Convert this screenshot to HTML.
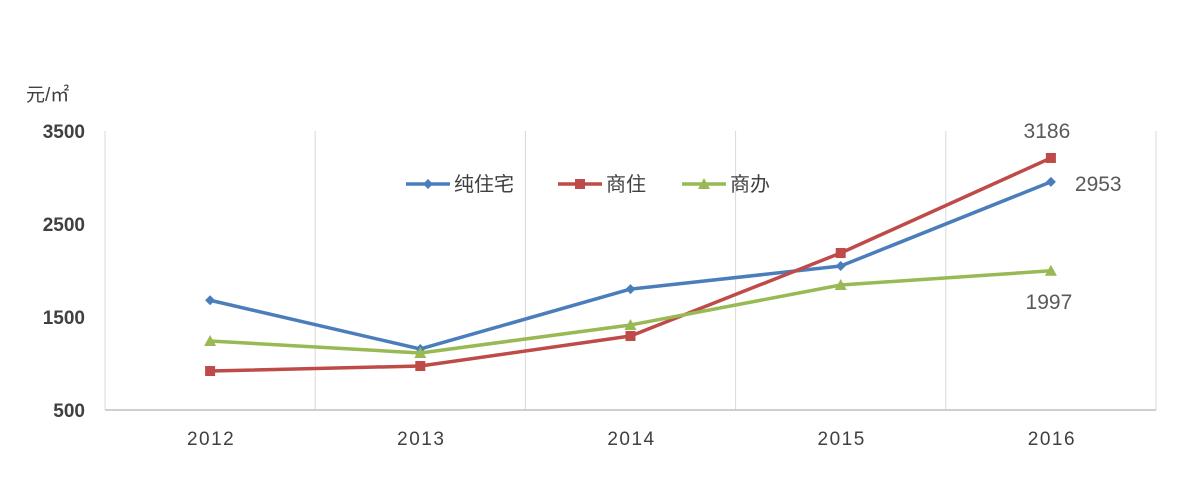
<!DOCTYPE html>
<html><head><meta charset="utf-8"><style>
body{margin:0;background:#fff;}
svg text{font-family:"Liberation Sans","Noto Sans CJK SC",sans-serif;}
</style></head><body>
<svg width="1199" height="478" viewBox="0 0 1199 478">
<g id="grid"></g>
<g id="axes"></g>
<g id="series"></g>
<g id="legend"></g>
</svg>
<script>
const categories=["2012","2013","2014","2015","2016"];
const yTicks=[500,1500,2500,3500];
const seriesNames=["纯住宅","商住","商办"];
const pureResidential=[1680,1156,1800,2048,2953];
const commercialResidential=[919,973,1296,2188,3210];
const commercialOffice=[1242,1113,1414,1844,1997];
const colors=["#4a7ebb","#be4b48","#98b954"];
const allSeries=[pureResidential,commercialResidential,commercialOffice];
const NS="http://www.w3.org/2000/svg";
const x0=105,x1=1156,yTop=131,yBot=410;
const step=(x1-x0)/categories.length;
const xs=i=>x0+step*(i+0.5);
const ys=v=>yBot-(v-500)/3000*(yBot-yTop);
function mk(tag,attrs,parent){const e=document.createElementNS(NS,tag);for(const k in attrs)e.setAttribute(k,attrs[k]);parent.appendChild(e);return e;}
const grid=document.getElementById('grid'),axes=document.getElementById('axes'),ser=document.getElementById('series'),leg=document.getElementById('legend');
for(let i=0;i<=categories.length;i++){const gx=x0+step*i;const l=mk('line',{x1:gx,x2:gx,y1:yTop,y2:yBot,stroke:'#d9d9d9','stroke-width':1},grid);

}
const ax=mk('line',{x1:x0,x2:x1,y1:yBot,y2:yBot,stroke:'#bfbfbf','stroke-width':1.5},axes);


const unit=mk('text',{x:26,y:101,'font-size':19,fill:'#404040'},axes);unit.textContent='元/㎡';


yTicks.forEach(t=>{const e=mk('text',{x:85,y:ys(t)+7,'font-size':19,'font-weight':'bold',fill:'#404040','text-anchor':'end'},axes);e.textContent=t;

});
categories.forEach((c,i)=>{const e=mk('text',{x:xs(i)+1,y:445,'font-size':19,fill:'#404040','text-anchor':'middle','letter-spacing':1.5},axes);e.textContent=c;

});
function marker(k,cx,cy,p){let e;
if(k===0)e=mk('polygon',{points:`${cx},${cy-5} ${cx+5},${cy} ${cx},${cy+5} ${cx-5},${cy}`,fill:colors[k]},p);
else if(k===1)e=mk('rect',{x:cx-5,y:cy-5,width:10,height:10,fill:colors[k]},p);
else e=mk('polygon',{points:`${cx},${cy-6} ${cx+6},${cy+5} ${cx-6},${cy+5}`,fill:colors[k]},p);
return e;}
allSeries.forEach((vals,k)=>{const g=mk('g',{},ser);


const pl=mk('polyline',{points:vals.map((v,i)=>xs(i)+','+ys(v)).join(' '),fill:'none',stroke:colors[k],'stroke-width':3.5,'stroke-linejoin':'round'},g);


vals.forEach((v,i)=>{const m=marker(k,xs(i),ys(v),g);

});});
const last=categories.length-1;
const lbls=[[2953,xs(last)+24,ys(pureResidential[last])+9,'start'],[3186,xs(last)-4,ys(commercialResidential[last])-20,'middle'],[1997,xs(last)-2,ys(commercialOffice[last])+38,'middle']];
lbls.forEach(l=>{const e=mk('text',{x:l[1],y:l[2],'font-size':21,fill:'#595959','text-anchor':l[3]},ser);e.textContent=l[0];

});
const legX=[406,558,682];
seriesNames.forEach((n,k)=>{const g=mk('g',{},leg);


mk('line',{x1:legX[k],x2:legX[k]+44,y1:184,y2:184,stroke:colors[k],'stroke-width':3.5},g);
marker(k,legX[k]+22,184,g);
const t=mk('text',{x:legX[k]+48,y:191,'font-size':20,fill:'#404040'},g);t.textContent=n;});
</script>
</body></html>
